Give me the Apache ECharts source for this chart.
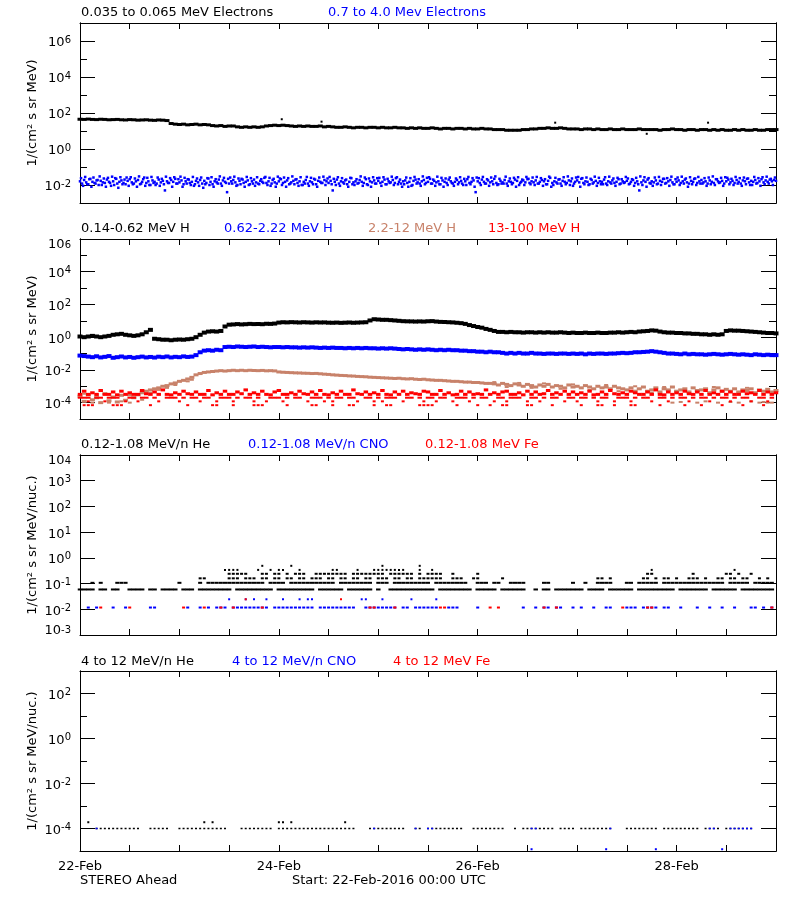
<!DOCTYPE html>
<html><head><meta charset="utf-8">
<script src="https://cdn.jsdelivr.net/npm/echarts@6/dist/echarts.min.js"></script>
<style>html,body{margin:0;padding:0;background:#fff}#c{width:800px;height:900px}</style>
</head><body><div id="c"></div>
<script>
// ================= DATA =================
// time axis: hours since 22-Feb-2016 00:00 UTC
const xLabelHours = [0, 48, 96, 144];
const xLabels = ['22-Feb', '24-Feb', '26-Feb', '28-Feb'];

// series names (legend texts)
const namesP1 = ['0.035 to 0.065 MeV Electrons', '0.7 to 4.0 Mev Electrons'];
const namesP2 = ['0.14-0.62 MeV H', '0.62-2.22 MeV H', '2.2-12 MeV H', '13-100 MeV H'];
const namesP3 = ['0.12-1.08 MeV/n He', '0.12-1.08 MeV/n CNO', '0.12-1.08 MeV Fe'];
const namesP4 = ['4 to 12 MeV/n He', '4 to 12 MeV/n CNO', '4 to 12 MeV Fe'];
const yNames = ['1/(cm\u00B2 s sr MeV)', '1/(cm\u00B2 s sr MeV)', '1/(cm\u00B2 s sr MeV/nuc.)', '1/(cm\u00B2 s sr MeV/nuc.)'];
const footLeft = 'STEREO Ahead';
const footStart = 'Start: 22-Feb-2016 00:00 UTC';

// y ranges and tick values
const yRanges = [[1e-3, 1e7], [1e-5, 1e6], [1e-3, 1e4], [1e-5, 1e3]];
const yMajorTicks = [[1e-2, 1, 1e2, 1e4, 1e6], [1e-4, 1e-2, 1, 1e2, 1e4, 1e6], [1e-2, 1e-1, 1, 1e1, 1e2, 1e3], [1e-4, 1e-2, 1, 1e2]];
const yMinorTicks = [[1e-1, 1e1, 1e3, 1e5], [1e-3, 1e-1, 1e1, 1e3, 1e5], [], [1e-3, 1e-1, 1e1]];
const yTickLabels = [[1e-2, 1, 1e2, 1e4, 1e6], [1e-4, 1e-2, 1, 1e2, 1e4, 1e6], [1e-3, 1e-2, 1e-1, 1, 1e1, 1e2, 1e3, 1e4], [1e-4, 1e-2, 1, 1e2]];

// ---- Panel 1: electrons ----
// 0.035-0.065 MeV electrons, hourly from hour 0
const eLowFlux = [45,44,46,44,43,45,44,42,43,44,42,41,43,42,40,41,42,40,39,41,40,38,
26,24,23,24,22,23,24,22,23,22,
20,19,20,18,19,19,
17,16,17,16,17,16,17,
19,20,21,20,21,20,
19,18,19,18,19,18,18,19,17,18,
17,16,16,17,16,15,16,16,15,16,16,15,16,15,15,16,
15,15,14,15,14,15,14,14,15,14,13,14,14,13,14,14,13,14,13,13,14,13,13,12,
12,12,11,11,11,11,12,12,
13,13,14,14,15,14,14,15,14,
13,13,13,12,13,13,12,13,12,12,13,12,12,13,12,12,12,13,12,12,12,12,11,12,12,13,12,12,11,12,
12,11,12,12,11,12,11,12,11,11,12,11,12,11,11,12,11,11,12,12,12];
const eLowSpikes = [[48.7,45],[58.3,33],[114.7,29],[151.6,29],[136.8,7]];
// 0.7-4.0 MeV electrons, every 30 minutes from hour 0 (A) and from hour 0.25 (B)
const eHighFluxA = [
.016,.012,.019,.014,.011,.022,.015,.013,.018,.010,.017,.014,
.013,.020,.015,.009,.016,.024,.012,.015,.018,.013,.011,.017,
.021,.014,.012,.016,.019,.011,.015,.026,.013,.016,.010,.018,
.015,.012,.020,.014,.017,.005,.016,.013,.019,.015,.022,.012,
.014,.018,.011,.016,.021,.013,.015,.009,.017,.014,.019,.012,
.017,.013,.023,.015,.011,.016,.014,.020,.012,.018,.015,.004,
.012,.016,.019,.014,.010,.017,.022,.013,.015,.018,.011,.016,
.020,.014,.012,.017,.015,.025,.013,.016,.009,.019,.014,.012,
.016,.021,.013,.015,.018,.011,.014,.017,.020,.013,.016,.010,
.015,.019,.012,.016,.014,.022,.011,.017,.015,.013,.019,.016,
.013,.017,.005,.015,.020,.012,.016,.014,.018,.011,.015,.024,
.014,.016,.012,.019,.015,.013,.021,.010,.016,.014,.018,.012,
.017,.013,.015,.020,.011,.016,.014,.019,.013,.027,.015,.012,
.016,.018,.013,.015,.009,.017,.020,.014,.012,.016,.019,.013,
.015,.022,.012,.017,.014,.016,.011,.018,.015,.013,.020,.016,
.012,.015,.019,.014,.017,.010,.016,.021,.013,.015,.018,.004,
.016,.013,.020,.015,.012,.018,.014,.016,.022,.013,.011,.017,
.014,.019,.012,.016,.015,.013,.020,.017,.010,.015,.018,.014,
.021,.013,.016,.014,.018,.012,.015,.019,.016,.011,.017,.025,
.013,.016,.014,.020,.012,.017,.015,.013,.018,.016,.009,.015,
.018,.014,.022,.013,.016,.015,.011,.019,.014,.017,.013,.016,
.015,.020,.012,.016,.014,.018,.013,.015,.021,.012,.016,.014,
.017,.011,.015,.019,.013,.016,.005,.014,.018,.015,.020,.013,
.016,.014,.018,.012,.017,.015,.022,.013,.016,.019,.014,.011,
.015,.018,.013,.016,.020,.014,.012,.017,.015,.023,.013,.016,
.019,.014,.016,.012,.018,.015,.013,.021,.016,.014,.017,.012,
.016,.020,.014,.017,.013,.019,.015,.012,.018,.016,.022,.014,
.017,.015,.019,.013,.016,.021,.014,.018,.015,.020,.016,.019,
.017];
const eHighFluxB = [
.024,.009,.028,.011,.021,.008,.026,.012,.019,.030,.010,.023,
.008,.025,.013,.029,.010,.022,.007,.027,.011,.020,.026,.009,
.027,.011,.023,.008,.030,.012,.021,.009,.025,.010,.028,.013,
.010,.026,.009,.022,.011,.029,.013,.024,.008,.027,.012,.021,
.029,.008,.025,.012,.020,.010,.028,.011,.023,.009,.026,.007,
.011,.024,.010,.027,.008,.021,.012,.030,.009,.025,.013,.022,
.026,.012,.029,.009,.023,.011,.020,.008,.028,.010,.024,.012,
.009,.027,.011,.021,.013,.028,.010,.025,.012,.022,.008,.029,
.023,.010,.026,.008,.024,.012,.030,.011,.021,.009,.027,.010,
.012,.028,.009,.025,.011,.020,.008,.026,.013,.029,.010,.023,
.028,.011,.022,.010,.027,.009,.024,.012,.020,.008,.025,.011,
.010,.021,.013,.030,.009,.026,.011,.023,.008,.027,.012,.024,
.025,.009,.027,.011,.022,.013,.029,.010,.024,.011,.020,.008,
.011,.026,.008,.024,.010,.028,.012,.021,.009,.030,.011,.025,
.027,.012,.020,.009,.029,.011,.025,.008,.023,.010,.026,.013,
.009,.023,.011,.027,.012,.022,.010,.028,.011,.024,.008,.026,
.024,.010,.028,.012,.021,.009,.026,.011,.030,.010,.022,.012,
.012,.029,.009,.023,.011,.025,.008,.027,.013,.020,.010,.028,
.022,.011,.026,.010,.028,.012,.024,.009,.021,.011,.029,.008,
.010,.025,.012,.021,.009,.027,.011,.030,.010,.023,.012,.026,
.028,.008,.024,.011,.026,.010,.022,.012,.029,.009,.025,.011,
.011,.027,.010,.029,.012,.023,.009,.025,.011,.021,.013,.028,
.023,.012,.021,.009,.025,.011,.030,.010,.027,.008,.024,.012,
.009,.026,.011,.028,.010,.022,.012,.024,.009,.029,.011,.021,
.026,.010,.029,.012,.023,.008,.027,.011,.022,.010,.028,.012,
.012,.024,.009,.026,.011,.030,.010,.021,.013,.025,.009,.027,
.025,.011,.022,.010,.028,.012,.024,.009,.026,.011,.023,.010,
.010,.028,.012,.024,.009,.027,.011,.029,.012,.022,.010,.026,
.024];

// ---- Panel 2: protons (hourly from hour 0) ----
const hLowFlux = [1.1,1.0,1.1,1.2,1.1,1.0,1.1,1.2,
1.4,1.5,1.6,1.4,1.3,
1.2,1.3,1.5,
2.0,2.8,
0.8,0.75,0.7,0.7,0.65,0.7,0.72,0.7,0.75,0.8,
1.0,1.4,1.9,2.2,
2.3,2.2,2.4,
4.5,
5.8,6.0,6.3,6.0,6.2,6.5,6.3,6.4,6.2,6.6,6.5,6.8,
7.8,8.2,8.0,8.3,8.1,7.9,8.2,8.0,7.8,8.1,7.9,8.0,7.7,
7.6,7.8,7.5,7.7,7.9,7.6,7.8,8.0,8.2,
10.5,
12.5,12,11.5,11.5,11,10.5,10,
9.5,9.3,9.2,9.0,9.2,9.0,9.4,9.6,
9.0,8.6,8.5,8.2,8.0,7.6,7.2,
6.5,5.5,4.8,4.2,3.8,
3.2,2.8,2.4,2.1,
2.1,2.0,2.1,2.0,2.0,1.9,2.0,2.0,1.9,2.0,1.9,2.0,1.9,1.9,2.0,1.9,1.8,1.9,1.8,1.8,1.9,1.8,1.8,1.9,1.8,1.8,1.9,1.9,2.0,1.9,2.0,2.1,2.0,2.2,2.3,2.4,2.6,
2.5,2.2,2.0,1.9,1.9,1.8,1.8,1.7,1.7,1.6,1.6,1.5,
1.5,1.4,1.5,1.4,1.5,
2.4,
2.6,2.5,2.5,2.4,2.3,2.2,2.1,2.0,1.9,1.8,1.8,1.7];
const hMidFlux = [.075,.07,.065,.06,.068,.058,.063,.07,.055,.06,.066,.058,.062,.055,.06,.065,.058,.062,.057,.064,.06,.066,.058,.063,.06,.067,.062,.065,
.08,.12,.15,
.16,.15,.17,.16,
.25,.26,.25,.27,.26,.25,.26,.27,.25,.26,.25,.24,.25,
.25,.24,.25,.24,.24,.23,.24,.23,.24,.23,.22,.23,.22,.23,.22,.22,.21,.22,.21,.22,.21,.22,.21,.21,.2,.21,.2,.21,.2,
.19,.18,.19,.18,.17,.18,.17,.18,.17,.16,.17,.16,.17,.16,.16,.15,
.15,.14,.14,.13,.13,.12,.13,.12,.12,
.11,.1,.11,.1,.11,.1,.1,.11,.1,.1,.095,.1,.1,.095,.1,.1,.095,.1,.095,.1,.09,.1,.095,.1,.1,.095,.1,.1,.105,.11,.105,.11,.12,.12,.125,.13,
.14,.13,.12,
.11,.1,.1,.095,.09,.1,.09,.095,.09,.09,.085,.09,.095,.09,.085,.09,.095,.09,.085,.09,.085,.08,.09,.085,.08,.085,.08,.08];
const hHighFlux = [2.5e-4,1.2e-4,3e-4,1.5e-4,2e-4,1e-4,3.5e-4,1.3e-4,2.2e-4,1.1e-4,2.8e-4,1.4e-4,3e-4,2e-4,
3e-4,4e-4,5e-4,6e-4,7e-4,8e-4,1e-3,1.1e-3,1.4e-3,1.6e-3,
2e-3,2.3e-3,2.8e-3,3.5e-3,5e-3,6e-3,7e-3,7.5e-3,
8e-3,8.5e-3,9e-3,8.5e-3,9e-3,9.5e-3,9e-3,9.5e-3,9e-3,9.5e-3,9.2e-3,9e-3,9.3e-3,8.8e-3,9e-3,8.7e-3,
7.5e-3,7.2e-3,7e-3,6.8e-3,6.6e-3,6.5e-3,6.3e-3,6.2e-3,6e-3,6.1e-3,5.8e-3,5.5e-3,5.3e-3,5e-3,4.8e-3,4.6e-3,4.5e-3,4.3e-3,4.2e-3,4e-3,3.9e-3,3.8e-3,3.6e-3,3.5e-3,3.4e-3,
3.3e-3,3.2e-3,3.1e-3,3e-3,3.1e-3,2.9e-3,2.8e-3,2.9e-3,2.7e-3,2.6e-3,2.7e-3,2.5e-3,
2.4e-3,2.3e-3,2.3e-3,2.2e-3,2.1e-3,2e-3,2e-3,1.9e-3,1.8e-3,1.8e-3,1.7e-3,1.7e-3,1.6e-3,1.5e-3,1.5e-3,
1.4e-3,1.2e-3,1.5e-3,1.3e-3,1.1e-3,1.4e-3,1.2e-3,1e-3,1.3e-3,1.1e-3,9e-4,1.2e-3,1e-3,1.3e-3,9e-4,1.1e-3,1e-3,8e-4,1.2e-3,9e-4,1e-3,8e-4,1.1e-3,9e-4,7e-4,1e-3,8e-4,9e-4,7e-4,1e-3,8e-4,7e-4,
6e-4,8e-4,5e-4,7e-4,9e-4,5e-4,6e-4,8e-4,4.5e-4,7e-4,6e-4,9e-4,5e-4,6e-4,7e-4,4.5e-4,8e-4,5.5e-4,6e-4,7e-4,4e-4,6e-4,8e-4,5e-4,6.5e-4,5e-4,7e-4,4.5e-4,6e-4,5.5e-4,7e-4,4e-4,6e-4,5e-4,6.5e-4,4.5e-4,5.5e-4];
const hHighExtra = [[1,3.5e-4],[3,1e-4],[4,2.8e-4],[7,1e-4],[9,3e-4],[10,1.2e-4],[12,1e-4],[15,1.5e-4],[17,4e-4],[19,6e-4],[21,8e-4],[23,1.2e-3],[26,2e-3],[27,2.5e-3],
[100,1.8e-3],[103,9e-4],[106,1.6e-3],[109,8e-4],[112,1.5e-3],[116,7e-4],[119,1.3e-3],[123,6e-4],[127,1.2e-3],[130,5e-4],[134,1e-3],[138,4e-4],[141,9e-4],[143,1e-4],[145,1.1e-4],
[147,3.5e-4],[149,1e-4],[151,1.2e-4],[153,9e-4],[154,1e-4],[157,1.1e-4],[159,1e-4],[161,8e-4],[162,1.2e-4],[164,1e-4],[165,1.1e-4],[166,1e-4],[167,1e-4]];
const hTopFlux = [3.2e-4,5e-4,3.2e-4,4e-4,3.2e-4,5.5e-4,3.2e-4,3.2e-4,4.5e-4,3e-4,5e-4,3.2e-4,
4e-4,3.2e-4,3.2e-4,5.5e-4,3.5e-4,3.2e-4,4.5e-4,3.2e-4,6e-4,3.2e-4,3e-4,4e-4,
3.2e-4,5e-4,3.5e-4,3.2e-4,4.5e-4,3.2e-4,3.2e-4,5.5e-4,3e-4,4e-4,3.2e-4,5e-4,
3.2e-4,3.2e-4,4.5e-4,3.5e-4,6e-4,3.2e-4,4e-4,3.2e-4,5e-4,3.2e-4,3e-4,4.5e-4,
5.5e-4,3.2e-4,3.2e-4,4e-4,3.2e-4,5e-4,3.5e-4,3.2e-4,4.5e-4,3.2e-4,5.5e-4,3.2e-4,
3e-4,4e-4,3.2e-4,5e-4,3.2e-4,3.2e-4,6e-4,3.5e-4,3.2e-4,4.5e-4,3.2e-4,4e-4,
3.2e-4,5.5e-4,3.2e-4,3e-4,4.5e-4,3.2e-4,5e-4,3.2e-4,4e-4,3.5e-4,3.2e-4,5e-4,
4.5e-4,3.2e-4,3.2e-4,5.5e-4,3.2e-4,4e-4,3e-4,3.2e-4,5e-4,3.2e-4,4.5e-4,3.2e-4,
3.5e-4,3.2e-4,6e-4,3.2e-4,4e-4,3.2e-4,4.5e-4,5e-4,3.2e-4,3.2e-4,4e-4,3e-4,
5e-4,3.2e-4,4.5e-4,3.2e-4,3.5e-4,5.5e-4,3.2e-4,4e-4,3.2e-4,5e-4,3.2e-4,4.5e-4,
3.2e-4,4e-4,3.2e-4,5e-4,3e-4,3.2e-4,4.5e-4,3.2e-4,5.5e-4,3.5e-4,3.2e-4,4e-4,
3.2e-4,5e-4,4e-4,3.2e-4,3.2e-4,4.5e-4,3.2e-4,6e-4,3.2e-4,3e-4,4.5e-4,3.2e-4,
4e-4,3.2e-4,5e-4,3.5e-4,3.2e-4,4.5e-4,3.2e-4,5.5e-4,3.2e-4,4e-4,3.2e-4,5e-4,
3.2e-4,4.5e-4,3.2e-4,3.2e-4,5e-4,3.5e-4,4e-4,3.2e-4,5.5e-4,3.2e-4,4.5e-4,3.2e-4,
4e-4];
// quantised low-count levels of 13-100 MeV H: hours where each level occurs
const hTopLevels = [2e-4, 1.2e-4, 7e-5];
const hTopLevel1Hours = [0,1,2,4,5,7,8,9,12,13,15,16,18,21,22,23,25,27,28,30,31,34,35,36,38,40,41,43,46,47,48,50,52,53,56,57,58,60,62,63,65,66,69,70,72,74,75,76,79,80,82,84,85,87,88,91,92,93,95,97,98,101,102,104,105,106,109,110,112,114,115,118,119,121,122,124,126,127,130,131,132,134,136,137,140,141,143,145,146,148,150,151,153,155,156,158,160,161,164,165,167];
const hTopLevel2Hours = [2,6,11,14,19,24,29,33,37,42,45,49,55,59,61,67,71,73,78,83,86,90,94,100,103,108,111,117,120,125,129,133,138,142,147,152,157,162,166];
const hTopLevel3Hours = [1,2,3,8,9,10,17,26,32,33,37,42,43,44,50,56,57,61,65,66,71,74,75,82,83,84,85,91,96,99,102,103,108,109,114,121,125,126,129,133,134,140,146,150,155,160,165];

// ---- Panel 3: 0.12-1.08 MeV/n heavy ions (quantised levels) ----
const heLevels = [0.059, 0.107, 0.16, 0.24, 0.34, 0.49];
const heLevel1Hours = [0,1,2,3,5,6,8,9,12,13,14,15,17,18,20,21,22,23,25,26,27,29,30,31,32,33,34,35,36,38,39,40,41,42,43,44,45,46,48,49,50,51,52,53,54,55,56,58,59,60,61,62,63,65,66,67,68,69,70,72,75,76,77,78,79,80,81,82,83,84,85,87,88,89,90,91,92,93,94,96,97,98,99,100,102,103,104,105,106,107,110,112,113,115,116,117,118,119,120,121,123,124,125,126,128,129,130,131,132,133,135,136,137,138,139,140,141,142,143,145,146,147,148,149,150,151,153,154,155,156,157,158,160,161,162,163,164,165,166,167];
const heLevel2Hours = [3,5,9,10,11,24,29,31,32,33,34,35,36,37,38,39,40,41,42,43,44,46,47,48,49,51,52,53,54,55,56,57,58,59,60,61,63,64,65,66,67,68,69,70,72,73,74,76,77,78,79,80,81,82,83,84,86,87,88,89,90,91,92,93,96,97,98,100,101,104,105,106,107,112,113,119,122,125,126,127,128,132,133,135,136,137,138,139,141,142,143,144,145,146,147,148,149,150,151,152,153,154,155,157,158,159,160,161,163,164,165,166,167];
const heLevel3Hours = [29,30,36,37,38,40,41,42,44,45,47,48,50,51,53,54,56,57,58,60,61,63,64,66,67,69,70,72,73,74,76,77,79,80,82,83,84,85,86,87,90,91,92,95,96,102,125,126,128,136,137,139,141,142,144,147,148,149,151,154,155,157,158,160,161,164,166];
const heLevel4Hours = [36,37,38,39,40,44,45,47,48,50,52,53,54,57,58,59,60,61,62,63,64,66,67,68,69,70,71,72,73,75,76,77,78,79,80,82,84,85,86,87,90,96,137,138,148,156,157,159,162];
const heLevel5Hours = [35,36,37,38,43,46,48,49,53,61,62,67,71,72,73,74,75,76,77,78,82,85,138,158];
const heLevel6Hours = [44,51,73,82];
const hvyLevels = [0.0117, 0.0245];
const cnoLevel1Hours = [2,4,8,11,17,18,26,29,31,33,34,35,37,38,39,40,41,42,43,44,45,47,48,49,50,51,52,53,54,55,56,58,59,60,61,62,63,64,65,66,69,70,71,72,73,74,75,76,78,79,81,82,83,84,85,86,89,90,91,96,107,110,112,113,115,116,119,121,124,127,128,132,133,134,136,137,138,139,141,142,145,149,152,155,158,162,163,165,167];
const cnoLevel2Hours = [36,40,42,45,49,53,55,56,68,69,73,80,86];
const feLevel1Hours = [5,12,25,30,34,37,44,70,71,76,87,88,99,101,112,115,131,137,138,167];
const feLevel2Hours = [40,63];

// ---- Panel 4: 4-12 MeV/n heavy ions (quantised levels) ----
const hi4Levels = [1e-4, 1.9e-4, 1.2e-5];
const he4Level1Hours = [4,5,6,7,8,9,10,11,12,13,14,17,18,19,20,21,24,25,26,27,28,29,30,31,32,33,34,35,39,40,41,42,43,44,45,46,48,49,50,51,52,53,54,55,56,57,58,59,60,61,62,63,64,65,66,70,71,72,73,74,75,76,77,78,81,82,84,85,86,87,88,89,90,91,92,95,96,97,98,99,100,101,102,105,107,108,109,110,111,112,113,114,116,117,118,119,121,122,123,124,125,126,127,128,132,133,134,135,136,137,138,139,141,142,143,144,145,146,147,148,149,151,152,153,154,156,157,158,159,160,161,162];
const he4Level2Hours = [2,30,32,48,49,51,64];
const cno4Level1Hours = [4,71,81,84,85,109,110,128,152,153,157,158,159,160,161,162];
const cno4Level3Hours = [109,127,139,155];
const fe4Level1Hours = [];

// ================= LAYOUT / STYLE =================
const FONT = 'DejaVu Sans';
const BLACK = '#000000', BLUE = '#0000ff', BROWN = '#c8826a', RED = '#ff0000';
const grids = [
  {left: 80, top: 23, width: 696, height: 180},
  {left: 80, top: 239, width: 696, height: 180},
  {left: 80, top: 455, width: 696, height: 180},
  {left: 80, top: 671, width: 696, height: 180}
];

const timed = (arr, start, step) => arr.map((v, i) => [start + i * step, v]);
const level = (hours, v) => hours.map(h => [h, v]);

const xAxis = [], yAxis = [];
grids.forEach((g, i) => {
  const base = {gridIndex: i, type: 'value', min: 0, max: 168, interval: 12,
    axisLine: {show: true, lineStyle: {color: BLACK, width: 1}},
    axisTick: {show: true, inside: true, length: 6, lineStyle: {color: BLACK, width: 1}},
    splitLine: {show: false}};
  xAxis.push(Object.assign({}, base, {position: 'bottom',
    axisLabel: i === 3 ? {show: true, customValues: xLabelHours, margin: 9, color: BLACK, fontFamily: FONT, fontSize: 13,
      formatter: v => xLabels[xLabelHours.indexOf(v)]} : {show: false}}));
  xAxis.push(Object.assign({}, base, {position: 'top', axisLabel: {show: false}}));

  const [ymin, ymax] = yRanges[i];
  const fmt = v => {
    const e = Math.round(Math.log10(v));
    let k = '';
    if (Math.abs(e - Math.log10(ymax)) < 1e-6) k = 't';
    else if (Math.abs(e - Math.log10(ymin)) < 1e-6) k = 'm';
    return '{b' + k + '|10}{s' + k + '|' + e + '}';
  };
  const rich = {
    b: {fontFamily: FONT, fontSize: 13, color: BLACK, lineHeight: 20, padding: [4, 0, 0, 0]},
    s: {fontFamily: FONT, fontSize: 10, color: BLACK, verticalAlign: 'top', padding: [4, 0, 0, 0]},
    bt: {fontFamily: FONT, fontSize: 13, color: BLACK, lineHeight: 20, padding: [12, 0, 0, 0]},
    st: {fontFamily: FONT, fontSize: 10, color: BLACK, verticalAlign: 'top', padding: [12, 0, 0, 0]},
    bm: {fontFamily: FONT, fontSize: 13, color: BLACK, lineHeight: 20, padding: [0, 0, 8, 0]},
    sm: {fontFamily: FONT, fontSize: 10, color: BLACK, verticalAlign: 'top', padding: [0, 0, 8, 0]}
  };
  const yb = (pos, ticks, len, labels) => ({gridIndex: i, type: 'log', logBase: 10, min: ymin, max: ymax, position: pos,
    axisLine: {show: true, lineStyle: {color: BLACK, width: 1}},
    axisTick: ticks.length ? {show: true, inside: true, length: len, customValues: ticks, lineStyle: {color: BLACK, width: 1}} : {show: false},
    axisLabel: labels ? {show: true, customValues: labels, margin: 9, formatter: fmt, rich: rich} : {show: false},
    splitLine: {show: false}, minorTick: {show: false}});
  yAxis.push(yb('left', yMajorTicks[i], 15, yTickLabels[i]));
  yAxis.push(yb('left', yMinorTicks[i], 7, null));
  yAxis.push(yb('right', yMajorTicks[i], 15, null));
  yAxis.push(yb('right', yMinorTicks[i], 7, null));
});

const sc = (g, data, color, size) => ({type: 'scatter', xAxisIndex: 2 * g, yAxisIndex: 4 * g, data: data,
  symbol: 'rect', symbolSize: size, itemStyle: {color: color, opacity: 1}, silent: true, animation: false,
  emphasis: {disabled: true}});

const series = [
  // panel 1
  sc(0, timed(eLowFlux, 0, 1), BLACK, [5, 3]),
  sc(0, eLowSpikes, BLACK, [2, 2]),
  sc(0, timed(eHighFluxA, 0, 0.5), BLUE, [2.5, 2.5]),
  sc(0, timed(eHighFluxB, 0.25, 0.5), BLUE, [2.5, 2.5]),
  // panel 2
  sc(1, timed(hLowFlux, 0, 1), BLACK, [5, 4]),
  sc(1, timed(hMidFlux, 0, 1), BLUE, [5, 4]),
  sc(1, timed(hHighFlux, 0, 1), BROWN, [5, 3]),
  sc(1, hHighExtra, BROWN, [4, 2]),
  sc(1, timed(hTopFlux, 0, 1), RED, [4.5, 3]),
  sc(1, level(hTopLevel1Hours, hTopLevels[0]), RED, [4.5, 2]),
  sc(1, level(hTopLevel2Hours, hTopLevels[1]), RED, [3, 2]),
  sc(1, level(hTopLevel3Hours, hTopLevels[2]), RED, [3, 2]),
  // panel 3
  sc(2, level(heLevel1Hours, heLevels[0]), BLACK, [4.5, 2]),
  sc(2, level(heLevel2Hours, heLevels[1]), BLACK, [4, 2]),
  sc(2, level(heLevel3Hours, heLevels[2]), BLACK, [3, 2]),
  sc(2, level(heLevel4Hours, heLevels[3]), BLACK, [3, 2]),
  sc(2, level(heLevel5Hours, heLevels[4]), BLACK, [2, 2]),
  sc(2, level(heLevel6Hours, heLevels[5]), BLACK, [2, 2]),
  sc(2, level(cnoLevel1Hours, hvyLevels[0]), BLUE, [3, 2]),
  sc(2, level(cnoLevel2Hours, hvyLevels[1]), BLUE, [2, 2]),
  sc(2, level(feLevel1Hours, hvyLevels[0]), RED, [3, 2]),
  sc(2, level(feLevel2Hours, hvyLevels[1]), RED, [2, 2]),
  // panel 4
  sc(3, level(he4Level1Hours, hi4Levels[0]), BLACK, [2, 1.5]),
  sc(3, level(he4Level2Hours, hi4Levels[1]), BLACK, [2, 2]),
  sc(3, level(cno4Level1Hours, hi4Levels[0]), BLUE, [2, 1.5]),
  sc(3, level(cno4Level3Hours, hi4Levels[2]), BLUE, [2, 2]),
  sc(3, level(fe4Level1Hours, hi4Levels[0]), RED, [2, 1.5])
];

// text placement
const txt = (x, y, text, color) => ({type: 'text', x: x, y: y, silent: true,
  style: {text: text, fill: color, fontFamily: FONT, fontSize: 13, align: 'left', verticalAlign: 'middle'}});
const graphic = [
  txt(81, 13, namesP1[0], BLACK), txt(328, 13, namesP1[1], BLUE),
  txt(81, 229, namesP2[0], BLACK), txt(224, 229, namesP2[1], BLUE), txt(368, 229, namesP2[2], BROWN), txt(488, 229, namesP2[3], RED),
  txt(81, 445, namesP3[0], BLACK), txt(248, 445, namesP3[1], BLUE), txt(425, 445, namesP3[2], RED),
  txt(81, 662, namesP4[0], BLACK), txt(232, 662, namesP4[1], BLUE), txt(393, 662, namesP4[2], RED),
  txt(80, 881, footLeft, BLACK), txt(292, 881, footStart, BLACK)
];
grids.forEach((g, i) => {
  graphic.push({type: 'text', x: 33, y: g.top + g.height / 2, rotation: Math.PI / 2, silent: true,
    style: {text: yNames[i], fill: BLACK, fontFamily: FONT, fontSize: 13, align: 'center', verticalAlign: 'middle'}});
});

const chart = echarts.init(document.getElementById('c'), null, {renderer: 'canvas'});
chart.setOption({
  backgroundColor: '#ffffff',
  animation: false,
  grid: grids.map(g => Object.assign({show: false, containLabel: false}, g)),
  xAxis: xAxis,
  yAxis: yAxis,
  series: series,
  graphic: graphic
});
</script></body></html>
